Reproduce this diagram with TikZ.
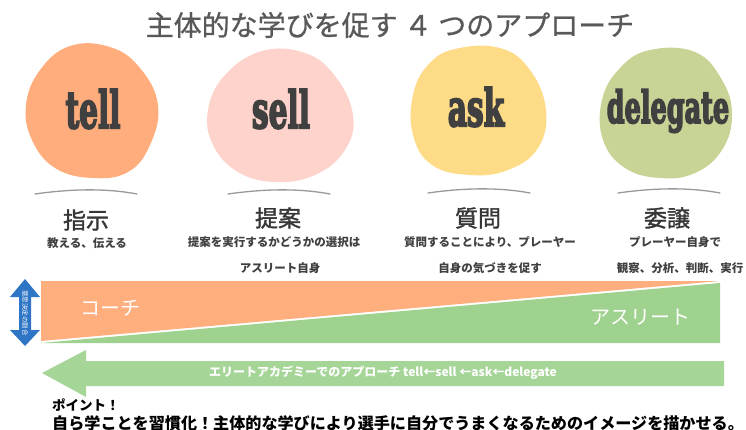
\documentclass[tikz,border=0pt]{standalone}
\usepackage{fontspec}
\newfontfamily\jp{Noto Sans CJK JP}
\newfontfamily\jpm{Noto Sans CJK JP}[FakeBold=1.5]
\newfontfamily\jpt{Noto Sans CJK JP}[FakeBold=0.8]
\newfontfamily\blobf{DejaVu Serif}[UprightFont=* Bold, FakeBold=4.5]
\definecolor{tellc}{HTML}{FFAD7D}
\definecolor{sellc}{HTML}{FDD3CB}
\definecolor{askc}{HTML}{FDDB87}
\definecolor{delc}{HTML}{C8D495}
\definecolor{barorange}{HTML}{FFAE7E}
\definecolor{bargreen}{HTML}{A0D28F}
\definecolor{arrgreen}{HTML}{A6D598}
\definecolor{bluec}{HTML}{2E75C6}
\definecolor{txtdark}{HTML}{404040}
\definecolor{titlec}{HTML}{595959}
\tikzset{
  blobword/.style={text=txtdark, inner sep=0pt, font=\blobf\fontsize{51}{51}\selectfont},
  heading/.style={text=txtdark!85!black, inner sep=0pt, font=\jpm\fontsize{23}{23}\selectfont},
  subtxt/.style={text=txtdark, inner sep=0pt, font=\jp\bfseries\fontsize{11.5}{12}\selectfont},
  underarc/.style={draw=gray!80, line width=1.3pt, line cap=round},
  whitelabel/.style={text=white, inner sep=0pt, font=\jp\fontsize{20}{20}\selectfont},
}
\begin{document}
\begin{tikzpicture}[x=1pt,y=-1pt]
\useasboundingbox (0,0) rectangle (746,430);
% title
\node[text=titlec, inner sep=0pt, font=\jpt\fontsize{28}{28}\selectfont] (title) at (390,25) {主体的な学びを促す ４ つのアプローチ};
% blobs
\fill[tellc] plot[smooth cycle, tension=0.7] coordinates {(70,46) (110,47) (140,68) (158,105) (150,145) (128,172) (92,178) (55,168) (32,140) (26,105) (40,70)};
\fill[sellc] plot[smooth cycle, tension=0.7] coordinates {(262,51) (305,53) (335,76) (353,115) (345,150) (315,175) (275,182) (238,172) (213,145) (208,110) (225,75)};
\fill[askc] plot[smooth cycle, tension=0.7] coordinates {(455,49) (500,48) (530,70) (546,110) (538,148) (508,170) (470,175) (432,165) (413,135) (413,95) (428,65)};
\fill[delc] plot[smooth cycle, tension=0.7] coordinates {(650,50) (695,52) (722,80) (732,115) (722,150) (695,173) (660,178) (625,168) (603,140) (602,100) (620,68)};
\node[blobword] (tell) at (93,109) {\scalebox{0.58}[1]{tell}};
\node[blobword] (sell) at (281,109) {\scalebox{0.58}[1]{sell}};
\node[blobword] (ask) at (476,107) {\scalebox{0.58}[1]{ask}};
\node[blobword, font=\blobf\fontsize{44}{44}\selectfont] (delegate) at (668,111) {\scalebox{0.58}[1]{delegate}};
% arcs
\coordinate (a1l) at (35,194); \coordinate (a1r) at (137,194);
\coordinate (a2l) at (228,194); \coordinate (a2r) at (330,194);
\coordinate (a3l) at (428,193); \coordinate (a3r) at (530,193);
\coordinate (a4l) at (618,193); \coordinate (a4r) at (720,193);
\draw[underarc] (a1l) .. controls (70,189) and (105,188) .. (a1r);
\draw[underarc] (a2l) .. controls (263,189) and (298,188) .. (a2r);
\draw[underarc] (a3l) .. controls (463,188) and (498,187) .. (a3r);
\draw[underarc] (a4l) .. controls (653,188) and (688,187) .. (a4r);
% headings
\node[heading] (h1) at (86,220) {指示};
\node[heading] (h2) at (278,218) {提案};
\node[heading] (h3) at (478,218) {質問};
\node[heading] (h4) at (667,218) {委譲};
\node[subtxt] (s1) at (87,243) {教える、伝える};
\node[subtxt] (s2a) at (274,242) {提案を実行するかどうかの選択は};
\node[subtxt] (s2b) at (280,268) {アスリート自身};
\node[subtxt] (s3a) at (490,242) {質問することにより、プレーヤー};
\node[subtxt] (s3b) at (490,268) {自身の気づきを促す};
\node[subtxt] (s4a) at (675,242) {プレーヤー自身で};
\node[subtxt] (s4b) at (680,268) {観察、分析、判断、実行};
% bar
\fill[barorange] (41,281) -- (720,281) -- (41,341) -- cycle;
\fill[bargreen] (41,343) -- (720,283) -- (720,343) -- cycle;
\node[whitelabel] (coach) at (110,308) {コーチ};
\node[whitelabel] (athlete) at (640,317) {アスリート};
% blue arrow
\fill[bluec] (25,279) -- (40,297) -- (31,297) -- (31,330) -- (40,330) -- (25,346) -- (10,330) -- (19,330) -- (19,297) -- (10,297) -- cycle;
\node[text=white, inner sep=0pt, rotate=-90, font=\jp\fontsize{6.5}{6.5}\selectfont] (ratio) at (25,313) {意思決定の割合};
% green arrow
\fill[arrgreen] (42,373) -- (86,350) -- (86,361) -- (724,361) -- (724,386) -- (86,386) -- (86,397) -- cycle;
\node[text=white, inner sep=0pt, font=\jp\bfseries\fontsize{12}{12}\selectfont] (approach) at (383,373) {エリートアカデミーでのアプローチ tell←sell ←ask←delegate};
% bottom text
\node[anchor=west, inner sep=0pt, font=\jp\bfseries\fontsize{13.5}{14}\selectfont] (point) at (52,405) {ポイント！};
\node[anchor=west, inner sep=0pt, font=\jp\bfseries\fontsize{16.1}{16}\selectfont] (msg) at (52,423) {自ら学ことを習慣化！主体的な学びにより選手に自分でうまくなるためのイメージを描かせる。};
\end{tikzpicture}
\end{document}
